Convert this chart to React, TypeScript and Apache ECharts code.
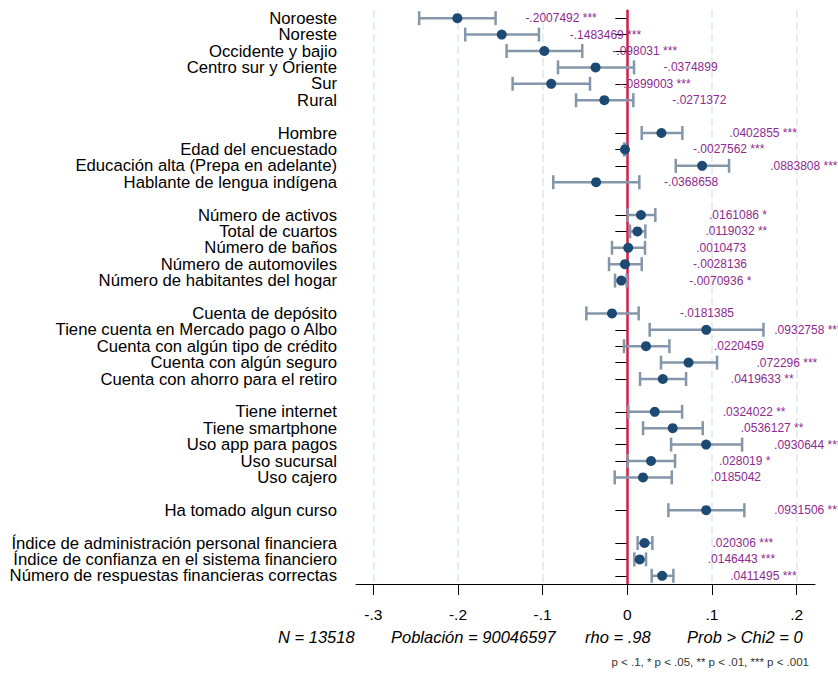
import React, { useEffect, useRef } from "react";
import * as echarts from "echarts";

const categories: string[] = [
  "Noroeste", "Noreste", "Occidente y bajio", "Centro sur y Oriente", "Sur", "Rural",
  "_gap1",
  "Hombre", "Edad del encuestado", "Educación alta (Prepa en adelante)", "Hablante de lengua indígena",
  "_gap2",
  "Número de activos", "Total de cuartos", "Número de baños", "Número de automoviles", "Número de habitantes del hogar",
  "_gap3",
  "Cuenta de depósito", "Tiene cuenta en Mercado pago o Albo", "Cuenta con algún tipo de crédito", "Cuenta con algún seguro", "Cuenta con ahorro para el retiro",
  "_gap4",
  "Tiene internet", "Tiene smartphone", "Uso app para pagos", "Uso sucursal", "Uso cajero",
  "_gap5",
  "Ha tomado algun curso",
  "_gap6",
  "Índice de administración personal financiera", "Índice de confianza en el sistema financiero", "Número de respuestas financieras correctas",
];

// coefficients (null for gap rows)
const coefs: (number | null)[] = [
  -0.2007492, -0.1483469, -0.098031, -0.0374899, -0.0899003, -0.0271372,
  null,
  0.0402855, -0.0027562, 0.0883808, -0.0368658,
  null,
  0.0161086, 0.0119032, 0.0010473, -0.0028136, -0.0070936,
  null,
  -0.0181385, 0.0932758, 0.0220459, 0.072296, 0.0419633,
  null,
  0.0324022, 0.0536127, 0.0930644, 0.028019, 0.0185042,
  null,
  0.0931506,
  null,
  0.020306, 0.0146443, 0.0411495,
];

const stars: string[] = [
  "***", "***", "***", "", "***", "",
  "",
  "***", "***", "***", "",
  "",
  "*", "**", "", "", "*",
  "",
  "", "***", "", "***", "**",
  "",
  "**", "**", "***", "*", "",
  "",
  "***",
  "",
  "***", "***", "***",
];

const ciLow: (number | null)[] = [
  -0.2459, -0.1915, -0.1426, -0.0819, -0.1355, -0.0606,
  null,
  0.017, -0.0038, 0.0572, -0.0875,
  null,
  0.0004, 0.0032, -0.0181, -0.0216, -0.0145,
  null,
  -0.0484, 0.0264, -0.0039, 0.0398, 0.015,
  null,
  0.0012, 0.0186, 0.0517, 0.0004, -0.0149,
  null,
  0.0485,
  null,
  0.0122, 0.0083, 0.0288,
];

const ciHigh: (number | null)[] = [
  -0.1556, -0.1044, -0.0532, 0.0079, -0.0441, 0.0071,
  null,
  0.065, -0.0017, 0.1202, 0.0142,
  null,
  0.0331, 0.0213, 0.0209, 0.017, -0.0007,
  null,
  0.0134, 0.1608, 0.0497, 0.106, 0.0694,
  null,
  0.0647, 0.0891, 0.1356, 0.0564, 0.0525,
  null,
  0.1383,
  null,
  0.0296, 0.0221, 0.0544,
];

const xTicks: number[] = [-0.3, -0.2, -0.1, 0, 0.1, 0.2];

const fmtNum = (v: number): string => {
  if (v === 0) return "0";
  return String(v).replace("0.", ".");
};

const FONT = 'Arial, "Liberation Sans", Helvetica, sans-serif';

export default function App() {
  const ref = useRef<HTMLDivElement>(null);

  useEffect(() => {
    document.body.style.margin = "0";
    if (!ref.current) return;
    const chart = echarts.init(ref.current, undefined, { renderer: "svg" });

    const ciData: number[][] = [];
    const ptData: any[] = [];
    categories.forEach((c, i) => {
      const lo = ciLow[i];
      const hi = ciHigh[i];
      const cf = coefs[i];
      if (lo !== null && hi !== null) ciData.push([lo, hi, i]);
      if (cf !== null) {
        ptData.push({
          value: [cf, i],
          labelText: fmtNum(cf) + (stars[i] ? " " + stars[i] : ""),
        });
      }
    });

    const option: any = {
      animation: false,
      grid: { left: 356, right: 23, top: 10, bottom: 91, containLabel: false },
      xAxis: {
        type: "value",
        min: -0.3205,
        max: 0.2217,
        axisLine: { show: true, lineStyle: { color: "#000", width: 1 } },
        axisTick: { show: true, length: 11, customValues: xTicks, lineStyle: { color: "#000", width: 1 } },
        axisLabel: {
          show: true,
          customValues: xTicks,
          formatter: (v: number) => fmtNum(Math.round(v * 10) / 10),
          fontSize: 15.5,
          color: "#000",
          fontFamily: FONT,
          margin: 22,
        },
        splitLine: { show: false },
      },
      yAxis: {
        type: "category",
        inverse: true,
        data: categories,
        axisLine: { show: true, lineStyle: { color: "#000", width: 1 } },
        axisTick: {
          show: true,
          alignWithLabel: true,
          length: 12,
          interval: (_i: number, v: string) => !String(v).startsWith("_gap"),
          lineStyle: { color: "#000", width: 1 },
        },
        axisLabel: {
          interval: 0,
          formatter: (v: string) => (v.startsWith("_gap") ? "" : v),
          fontSize: 16.7,
          color: "#000",
          fontFamily: FONT,
          margin: 19,
        },
        splitLine: { show: false },
      },
      series: [
        {
          type: "custom",
          data: ciData,
          encode: { x: [0, 1], y: 2 },
          z: 2,
          renderItem: (_params: any, api: any) => {
            const idx = api.value(2);
            const p1 = api.coord([api.value(0), idx]);
            const p2 = api.coord([api.value(1), idx]);
            const cap = 7;
            const style = { stroke: "#8496aa", lineWidth: 2.5 };
            return {
              type: "group",
              children: [
                { type: "line", shape: { x1: p1[0], y1: p1[1], x2: p2[0], y2: p2[1] }, style },
                { type: "line", shape: { x1: p1[0], y1: p1[1] - cap, x2: p1[0], y2: p1[1] + cap }, style },
                { type: "line", shape: { x1: p2[0], y1: p2[1] - cap, x2: p2[0], y2: p2[1] + cap }, style },
              ],
            };
          },
        },
        {
          type: "scatter",
          data: ptData,
          symbol: "circle",
          symbolSize: 10,
          z: 4,
          itemStyle: { color: "#1c4a72", opacity: 1 },
          label: {
            show: true,
            position: "right",
            distance: 63,
            formatter: (p: any) => p.data.labelText,
            color: "#8e2a8e",
            fontSize: 12,
            fontFamily: FONT,
          },
          markLine: {
            silent: true,
            symbol: ["none", "none"],
            label: { show: false },
            z: 1,
            data: [
              ...xTicks
                .filter((v) => v !== 0)
                .map((v) => ({ xAxis: v, lineStyle: { color: "#dde9ee", width: 1.5, type: [8, 4] } })),
              { xAxis: 0, lineStyle: { color: "#cf1f47", width: 2.5, type: "solid" } },
            ],
          },
        },
      ],
      graphic: [
        { type: "text", left: 278, top: 628, style: { text: "N = 13518", fontSize: 16.5, fontStyle: "italic", fill: "#000", fontFamily: FONT } },
        { type: "text", left: 391, top: 628, style: { text: "Población = 90046597", fontSize: 16.5, fontStyle: "italic", fill: "#000", fontFamily: FONT } },
        { type: "text", left: 585, top: 628, style: { text: "rho = .98", fontSize: 16.5, fontStyle: "italic", fill: "#000", fontFamily: FONT } },
        { type: "text", left: 687, top: 628, style: { text: "Prob > Chi2 = 0", fontSize: 16.5, fontStyle: "italic", fill: "#000", fontFamily: FONT } },
        { type: "text", right: 29, top: 656, style: { text: "p < .1, * p < .05, ** p < .01, *** p < .001", fontSize: 11.5, fill: "#333", fontFamily: FONT } },
      ],
    };

    chart.setOption(option);
    return () => chart.dispose();
  }, []);

  return <div ref={ref} style={{ width: 838, height: 675 }} />;
}
